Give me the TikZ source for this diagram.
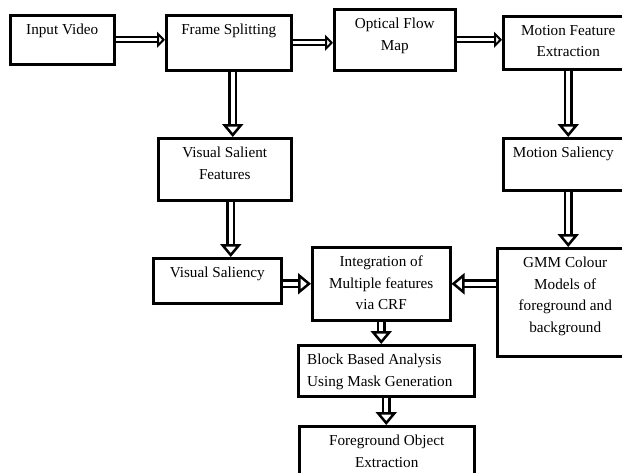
\documentclass[tikz,border=0pt]{standalone}
\usepackage{fontspec}
\setmainfont{Liberation Serif}
\usetikzlibrary{arrows.meta}

\tikzset{
    blk/.style={draw, line width=2.5pt, anchor=north west, inner sep=0pt},
    txt/.style={anchor=north, yshift=-10pt, align=center, inner sep=0pt,
        font=\fontsize{15.2}{21.5}\selectfont},
    flow/.style={double, double distance=4pt, line width=2.5pt,
        -{Triangle[open, length=13pt, width=21pt, line width=2.5pt]}},
    flowsmall/.style={double, double distance=3pt, line width=2.2pt,
        -{Triangle[open, length=8pt, width=16pt, line width=2.2pt]}}
}

\begin{document}
\begin{tikzpicture}[x=1pt, y=-1pt]
    \useasboundingbox (0,0) rectangle (622,472);
    \clip (0,0) rectangle (622,472);
    % top row
    \node[blk, minimum width=104pt, minimum height=49pt, label={[txt]north:Input Video}] (inp) at (9,14) {};
    \node[blk, minimum width=125pt, minimum height=55pt, label={[txt]north:Frame Splitting}] (frm) at (165,14) {};
    \node[blk, minimum width=121pt, minimum height=61pt, label={[txt]north:{Optical Flow\\Map}}] (ofm) at (333,8) {};
    \node[blk, minimum width=130pt, minimum height=53pt, label={[txt]north:{Motion Feature\\Extraction}}] (mfe) at (502,15) {};
    % second row
    \node[blk, minimum width=133pt, minimum height=62pt, label={[txt]north:{Visual Salient\\Features}}] (vsf) at (157,137) {};
    \node[blk, minimum width=130pt, minimum height=52pt, label={[txt, xshift=-5pt]north:Motion Saliency}] (msal) at (502,137) {};
    % third row
    \node[blk, minimum width=128pt, minimum height=45pt, label={[txt]north:Visual Saliency}] (vsal) at (152,257) {};
    \node[blk, minimum width=138pt, minimum height=73pt, label={[txt]north:{Integration of\\Multiple features\\via CRF}}] (integ) at (311,246) {};
    \node[blk, minimum width=136pt, minimum height=108pt, label={[txt]north:{GMM Colour\\Models of\\foreground and\\background}}] (gmm) at (496,247) {};
    % bottom
    \node[blk, minimum width=176pt, minimum height=51pt, label={[txt, anchor=north west, xshift=10pt, align=left]north west:{Block Based Analysis\\Using Mask Generation}}] (blkan) at (297,344) {};
    \node[blk, minimum width=175pt, minimum height=70pt, label={[txt]north:{Foreground Object\\Extraction}}] (fgo) at (298,425) {};

    % arrow start points that sit off the box centres
    \coordinate (frmout) at ([xshift=4pt]frm.south);
    \coordinate (vsfout) at ([xshift=6pt]vsf.south);

    \draw[flowsmall] (inp.east) -- (inp.east -| frm.west);
    \draw[flowsmall] (frm.east) -- (frm.east -| ofm.west);
    \draw[flowsmall] (ofm.east) -- (ofm.east -| mfe.west);
    \draw[flow] (frmout) -- (frmout |- vsf.north);
    \draw[flow] (vsfout) -- (vsfout |- vsal.north);
    \draw[flow] (mfe.south) -- (mfe.south |- msal.north);
    \draw[flow] (msal.south) -- (msal.south |- gmm.north);
    \draw[flow] (vsal.east |- integ.west) -- (integ.west);
    \draw[flow] (gmm.west |- integ.east) -- (integ.east);
    \draw[flow] (integ.south) -- (integ.south |- blkan.north);
    \draw[flow] (blkan.south) -- (blkan.south |- fgo.north);
\end{tikzpicture}
\end{document}
